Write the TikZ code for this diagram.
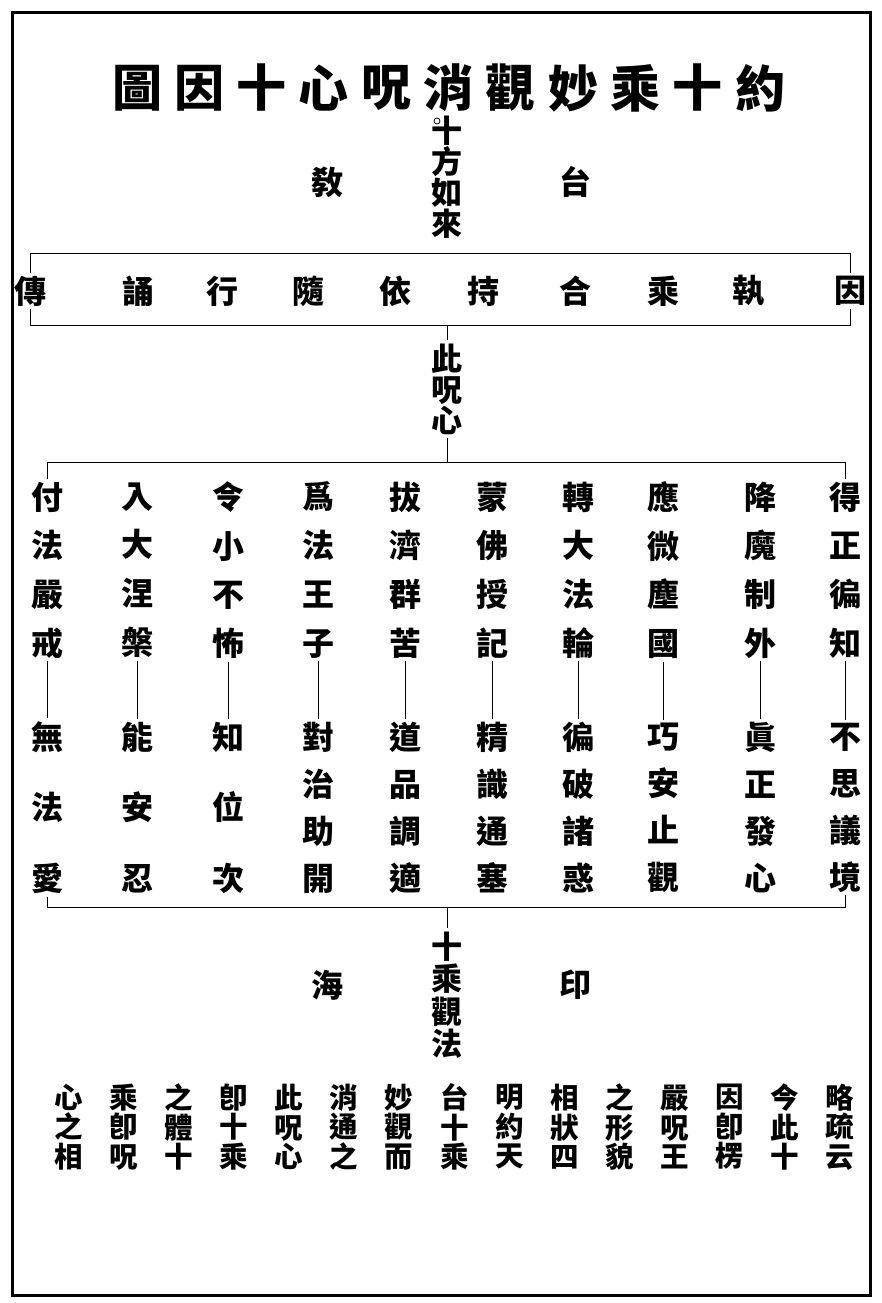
\documentclass[tikz,border=0pt]{standalone}
\usepackage{fontspec}
\newfontfamily\cjk{Noto Sans CJK TC}

\tikzset{
  titlech/.style={font=\cjk\bfseries\fontsize{50}{50}\selectfont, inner sep=0pt},
  col/.style 2 args={font=\cjk\bfseries\fontsize{#1}{#2}\selectfont, align=center, inner sep=3pt},
  note/.style={font=\cjk\bfseries\fontsize{28.5}{29.5}\selectfont, align=center, inner sep=0pt},
  link/.style={line width=1pt},
  frame/.style={line width=3pt}
}

\begin{document}
\begin{tikzpicture}[x=1pt,y=-1pt]
    \useasboundingbox (0,0) rectangle (882,1303);

    % 外框
    \draw[frame] (12,13) rectangle (870,1295);

    % 標題
    \foreach \c [count=\i from 0] in {圖,因,十,心,呪,消,觀,妙,乘,十,約}
        \node[titlech] (t\i) at (137+62.3*\i,88) {\c};
    \draw[line width=0.8pt] (437,121) circle (3);

    % 十方如來, 台敎
    \node[col={31}{31}] (shifang) at (447,177.5) {十\\方\\如\\來};
    \node[col={32}{32}] (jiao) at (327,182) {敎};
    \node[col={32}{32}] (tai) at (575,182) {台};

    % 十因
    \foreach \x/\c [count=\i] in {30/傳,138/誦,222/行,308/隨,395/依,483/持,575/合,663/乘,748/執,850/因}
        \node[col={32}{32}] (a\i) at (\x,291) {\c};
    \coordinate (atop) at (447,253);
    \coordinate (abot) at (447,325);
    \draw[link] (a1.north) -- (a1.north |- atop) -- (a10.north |- atop) -- (a10.north);
    \draw[link] (a1.south) -- (a1.south |- abot) -- (a10.south |- abot) -- (a10.south);

    % 此呪心
    \node[col={31}{31}] (zhou) at (447,389) {此\\呪\\心};
    \coordinate (btop) at (447,462);
    \draw[link] (abot) -- (zhou.north);
    \draw[link] (zhou.south) -- (btop);

    % 十果 -- 十乘
    \foreach \x/\up/\dn/\sp [count=\i] in {
        47/付\\法\\嚴\\戒/無\\法\\愛/70.5,
        137/入\\大\\涅\\槃/能\\安\\忍/70.5,
        228/令\\小\\不\\怖/知\\位\\次/70.5,
        318/爲\\法\\王\\子/對\\治\\助\\開/47,
        405/拔\\濟\\群\\苦/道\\品\\調\\適/47,
        492/蒙\\佛\\授\\記/精\\識\\通\\塞/47,
        578/轉\\大\\法\\輪/徧\\破\\諸\\惑/47,
        663/應\\微\\塵\\國/巧\\安\\止\\觀/47,
        760/降\\魔\\制\\外/眞\\正\\發\\心/47,
        845/得\\正\\徧\\知/不\\思\\議\\境/47}
    {
        \node[col={32}{48.7}] (up\i) at (\x,570) {\up};
        \node[col={32}{\sp}] (dn\i) at (\x,807.5) {\dn};
        \draw[link] (up\i.south) -- (dn\i.north);
    }
    \coordinate (bbot) at (447,907);
    \draw[link] (up1.north) -- (up1.north |- btop) -- (up10.north |- btop) -- (up10.north);
    \draw[link] (dn1.south) -- (dn1.south |- bbot) -- (dn10.south |- bbot) -- (dn10.south);

    % 十乘觀法, 海印
    \node[col={31}{32.5}] (guan) at (447,995) {十\\乘\\觀\\法};
    \draw[link] (bbot) -- (guan.north);
    \node[col={32}{32}] (hai) at (327,985) {海};
    \node[col={32}{32}] (yin) at (575,985) {印};

    % 疏文
    \foreach \t [count=\i from 0] in {略\\疏\\云,今\\此\\十,因\\卽\\楞,嚴\\呪\\王,之\\形\\貌,相\\狀\\四,明\\約\\天,台\\十\\乘,妙\\觀\\而,消\\通\\之,此\\呪\\心,卽\\十\\乘,之\\體\\十,乘\\卽\\呪,心\\之\\相}
        \node[note] (n\i) at (840-55.1*\i,1127) {\t};
\end{tikzpicture}
\end{document}
